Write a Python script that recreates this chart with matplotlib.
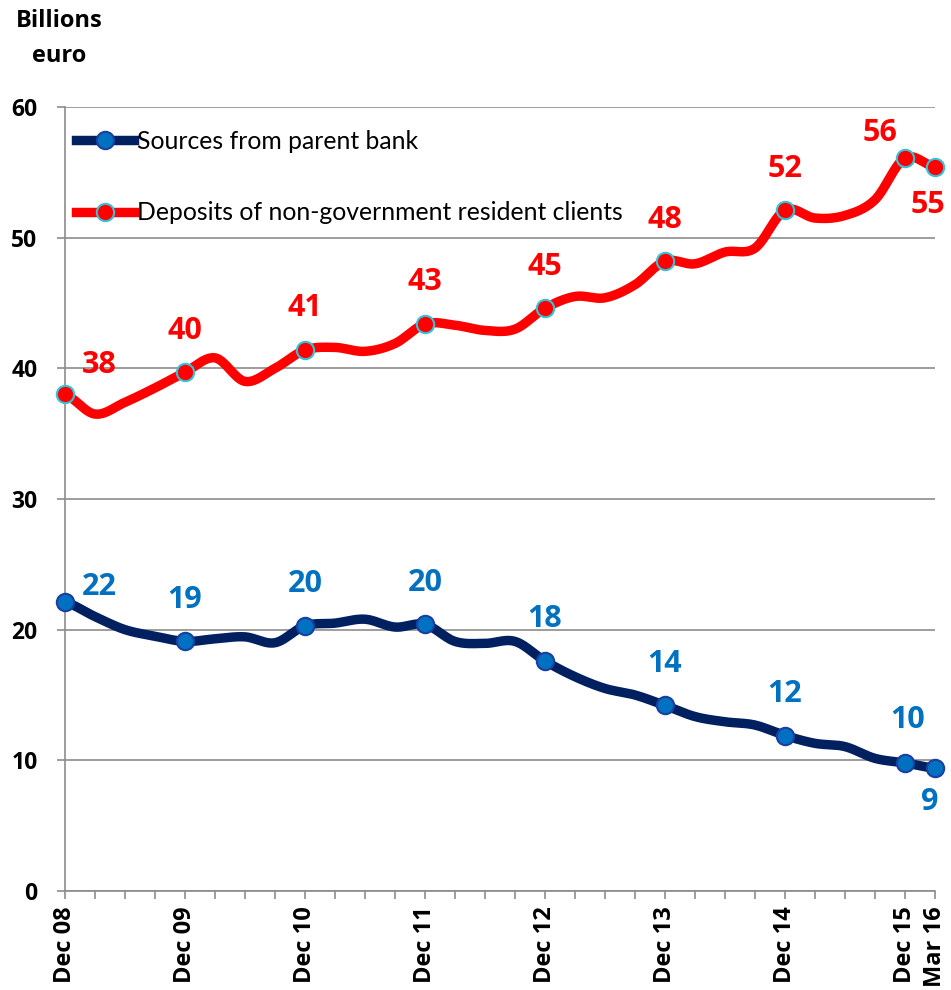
import numpy as np
import matplotlib
matplotlib.use('Agg')
import matplotlib.pyplot as plt
import matplotlib.transforms as mtransforms
from matplotlib.lines import Line2D

plt.rcParams['font.family'] = ['Lato', 'DejaVu Sans']
BOLD = ['Open Sans', 'DejaVu Sans']

# quarterly values, Dec 08 .. Mar 16 (30 quarters)
parent_bank = [22.1, 21.0, 20.0, 19.5, 19.1, 19.3, 19.45, 19.0, 20.3, 20.5,
               20.8, 20.2, 20.4, 19.1, 18.95, 19.1, 17.6, 16.4, 15.5, 15.0,
               14.2, 13.35, 12.95, 12.7, 11.9, 11.3, 11.05, 10.15, 9.8, 9.4]
deposits = [38.0, 36.5, 37.4, 38.5, 39.7, 40.8, 39.0, 40.0, 41.4, 41.6,
            41.3, 41.9, 43.4, 43.3, 42.9, 43.0, 44.6, 45.5, 45.4, 46.4,
            48.2, 48.0, 48.9, 49.2, 52.1, 51.5, 51.7, 52.9, 56.1, 55.4]
tick_labels = ['Dec 08', 'Dec 09', 'Dec 10', 'Dec 11', 'Dec 12',
               'Dec 13', 'Dec 14', 'Dec 15', 'Mar 16']
marked = [0, 4, 8, 12, 16, 20, 24, 28, 29]

series_names = ['Sources from parent bank',
                'Deposits of non-government resident clients']

NAVY = '#002060'
BLUE = '#0070C0'
RED = '#FF0000'
CYAN = '#33C3DA'
GRAY = '#8C8C8C'


def smooth(y, n=24):
    # catmull-rom, like excel's smoothed line
    y = np.asarray(y, dtype=float)
    p = np.concatenate([[y[0]], y, [y[-1]]])
    xs, ys = [], []
    t = np.linspace(0, 1, n, endpoint=False)
    for i in range(len(y) - 1):
        p0, p1, p2, p3 = p[i], p[i + 1], p[i + 2], p[i + 3]
        yy = 0.5 * (2 * p1 + (-p0 + p2) * t + (2 * p0 - 5 * p1 + 4 * p2 - p3) * t ** 2
                    + (-p0 + 3 * p1 - 3 * p2 + p3) * t ** 3)
        xs.append(i + t)
        ys.append(yy)
    xs.append([len(y) - 1])
    ys.append([y[-1]])
    return np.concatenate(xs), np.concatenate(ys)


fig = plt.figure(figsize=(9.51, 9.9), dpi=100)
ax = fig.add_axes([65 / 951, 99 / 990, 870 / 951, 784 / 990])

for vals, lc, mfc, mec in [(deposits, RED, RED, CYAN), (parent_bank, NAVY, BLUE, '#1A3FA0')]:
    sx, sy = smooth(vals)
    ax.plot(sx, sy, color=lc, lw=6.8, solid_capstyle='round', clip_on=False, zorder=3)
    ax.plot(marked, [vals[i] for i in marked], 'o', ms=12.5, mfc=mfc, mec=mec, mew=1.5,
            clip_on=False, zorder=4)

# data labels (offsets in points)
red_off = {0: (25, 21), 28: (-18, 18), 29: (-5, -27)}
blue_off = {0: (25, 11), 28: (2, 31), 29: (-4, -24)}
for vals, col, offs in [(deposits, RED, red_off), (parent_bank, BLUE, blue_off)]:
    for i in marked:
        ax.annotate(f'{vals[i]:.0f}', (i, vals[i]), xytext=offs.get(i, (0, 30)),
                    textcoords='offset points', ha='center', va='center',
                    fontsize=22, fontweight='bold', family=BOLD, color=col,
                    annotation_clip=False, zorder=5)

ax.set_xlim(0, 29)
ax.set_ylim(0, 60)
ax.set_yticks(range(0, 61, 10))
ax.set_xticks(marked)
ax.set_xticklabels(tick_labels, rotation=90, fontsize=17, fontweight='bold', family=BOLD)
ax.set_xticks(range(30), minor=True)
for lbl in ax.get_yticklabels():
    lbl.set_fontweight('bold')
    lbl.set_fontsize(16.5)
    lbl.set_family(BOLD)
shift = mtransforms.ScaledTranslation(4 / 100, 0, fig.dpi_scale_trans)
for lbl in ax.get_xticklabels():
    lbl.set_transform(lbl.get_transform() + shift)

ax.grid(axis='y', color=GRAY, lw=1.2)
ax.set_axisbelow(True)
ax.tick_params(axis='y', length=5.8, width=1.2, color=GRAY, pad=14)
ax.tick_params(axis='x', which='both', length=5.8, width=1.2, color=GRAY, pad=5)
for s in ['top', 'right']:
    ax.spines[s].set_visible(False)
for s in ['left', 'bottom']:
    ax.spines[s].set_color(GRAY)
    ax.spines[s].set_linewidth(1.2)

handles = [
    Line2D([], [], color=NAVY, lw=6.8, marker='o', ms=12.5, mfc=BLUE, mec='#1A3FA0', mew=1.5),
    Line2D([], [], color=RED, lw=6.8, marker='o', ms=12.5, mfc=RED, mec=CYAN, mew=1.5),
]
fig.legend(handles, series_names, loc='upper left', bbox_to_anchor=(76 / 951, 1 - 130 / 990),
           frameon=False, fontsize=17.8, handlelength=2.35, handletextpad=0.1,
           labelspacing=1.95, borderpad=0, borderaxespad=0)

fig.text(59 / 951, 1 - 27 / 990, 'Billions', ha='center', va='baseline',
         fontsize=17, fontweight='bold', family=BOLD)
fig.text(59 / 951, 1 - 62 / 990, 'euro', ha='center', va='baseline',
         fontsize=17, fontweight='bold', family=BOLD)

fig.savefig('out.png', dpi=100)
